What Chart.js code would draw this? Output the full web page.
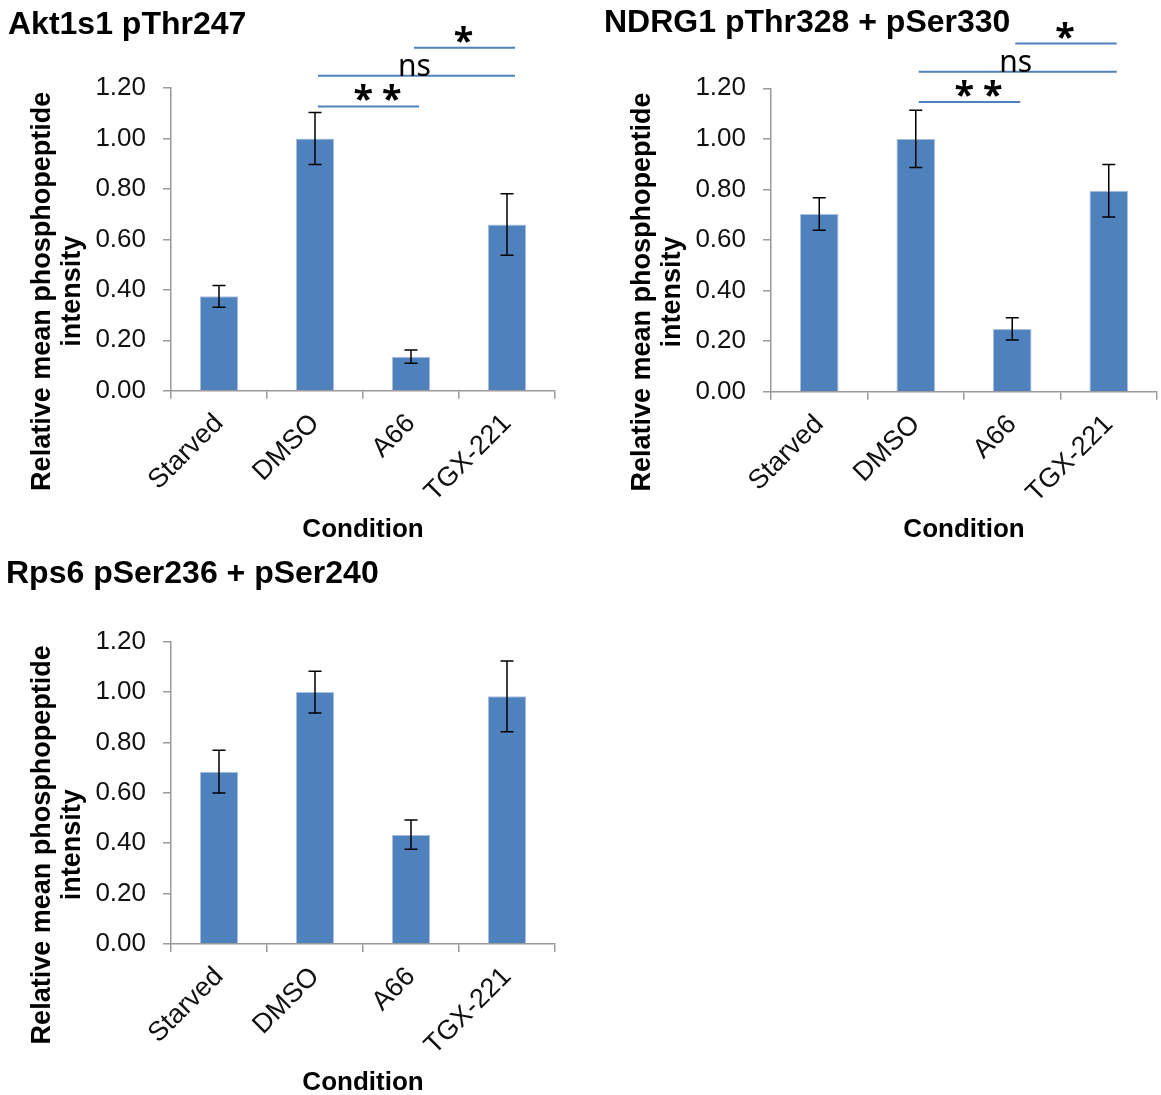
<!DOCTYPE html>
<html>
<head>
<meta charset="utf-8">
<script src="https://cdn.jsdelivr.net/npm/chart.js@4.4.1/dist/chart.umd.min.js"></script>
<style>
  html, body { margin: 0; padding: 0; background: #fff; overflow: hidden; }
  canvas { position: absolute; }
</style>
</head>
<body>
<canvas id="akt1s1" width="575" height="545" style="left:0;top:0"></canvas>
<canvas id="ndrg1" width="561" height="545" style="left:600px;top:0"></canvas>
<canvas id="rps6" width="575" height="545" style="left:0;top:553px"></canvas>
<script>
// data
var categories = ["Starved", "DMSO", "A66", "TGX-221"];
var yTickValues = [0, 0.2, 0.4, 0.6, 0.8, 1.0, 1.2];
var yTitleLines = ["Relative mean phosphopeptide", "intensity"];
var xTitle = "Condition";

var akt1s1Means = [0.374, 1.00, 0.135, 0.659];
var akt1s1Errors = [0.043, 0.103, 0.026, 0.122];

var ndrg1Means = [0.703, 1.00, 0.248, 0.795];
var ndrg1Errors = [0.064, 0.113, 0.044, 0.104];

var rps6Means = [0.684, 1.00, 0.434, 0.983];
var rps6Errors = [0.085, 0.083, 0.058, 0.140];

// significance brackets (category index from/to, level in axis units)
var akt1s1Brackets = [
  { from: 1, to: 2, level: 1.127, text: "**", dx: 9 },
  { from: 1, to: 3, level: 1.249, text: "ns", dx: -2 },
  { from: 2, to: 3, level: 1.360, text: "*", dx: -1 },
];
var ndrg1Brackets = [
  { from: 1, to: 2, level: 1.146, text: "**", dx: 9 },
  { from: 1, to: 3, level: 1.265, text: "ns", dx: -2 },
  { from: 2, to: 3, level: 1.377, text: "*", dx: -1 },
];

var FONT = "'Liberation Sans', Arial, sans-serif";
var BAR_BLUE = "#4F81BD";
var AXIS_GREY = "#9a9a9a";

var errorBarsPlugin = {
  id: "errorBars",
  afterDatasetsDraw: function (chart, args, opts) {
    var ctx = chart.ctx;
    var y = chart.scales.y;
    var meta = chart.getDatasetMeta(0);
    var values = chart.data.datasets[0].data;
    ctx.save();
    ctx.strokeStyle = "#000";
    ctx.lineWidth = 1.5;
    meta.data.forEach(function (bar, i) {
      var err = opts.errors[i];
      var top = y.getPixelForValue(values[i] + err);
      var bottom = y.getPixelForValue(values[i] - err);
      ctx.beginPath();
      ctx.moveTo(bar.x, top);
      ctx.lineTo(bar.x, bottom);
      ctx.moveTo(bar.x - 6.5, top);
      ctx.lineTo(bar.x + 6.5, top);
      ctx.moveTo(bar.x - 6.5, bottom);
      ctx.lineTo(bar.x + 6.5, bottom);
      ctx.stroke();
    });
    ctx.restore();
  },
};

var bracketsPlugin = {
  id: "brackets",
  afterDraw: function (chart, args, opts) {
    if (!opts.items) return;
    var ctx = chart.ctx;
    var x = chart.scales.x;
    var y = chart.scales.y;
    ctx.save();
    opts.items.forEach(function (b) {
      var x1 = x.getPixelForValue(b.from) + 3;
      var x2 = x.getPixelForValue(b.to) + 8;
      var ly = y.getPixelForValue(b.level);
      ctx.strokeStyle = BAR_BLUE;
      ctx.lineWidth = 2;
      ctx.beginPath();
      ctx.moveTo(x1, ly);
      ctx.lineTo(x2, ly);
      ctx.stroke();

      var mid = (x1 + x2) / 2 + b.dx;
      var stars = b.text !== "ns";
      ctx.fillStyle = "#000";
      ctx.textAlign = "left";
      ctx.textBaseline = "alphabetic";
      ctx.font = stars ? "bold 36px 'Noto Sans', sans-serif" : "30px 'Noto Sans', sans-serif";
      var spacing = b.text === "**" ? 9 : 0;
      ctx.letterSpacing = spacing + "px";
      var w = ctx.measureText(b.text).width - spacing;
      var base = stars ? ly + 5 : ly;
      ctx.fillText(b.text, mid - w / 2, base);
      ctx.letterSpacing = "0px";
    });
    ctx.restore();
  },
};

var sideTitlePlugin = {
  id: "sideTitle",
  afterDraw: function (chart, args, opts) {
    var ctx = chart.ctx;
    var area = chart.chartArea;
    var cy = (area.top + area.bottom) / 2 + 52;
    ctx.save();
    ctx.fillStyle = "#000";
    ctx.font = "bold 27px " + FONT;
    ctx.textAlign = "center";
    ctx.textBaseline = "middle";
    yTitleLines.forEach(function (line, i) {
      ctx.save();
      ctx.translate(opts.x + i * opts.gap, cy);
      ctx.rotate(-Math.PI / 2);
      ctx.fillText(line, 0, 0);
      ctx.restore();
    });
    ctx.restore();
  },
};

function renderPanel(id, title, means, errors, brackets, layout) {
  var canvas = document.getElementById(id);
  new Chart(canvas, {
    type: "bar",
    data: {
      labels: categories,
      datasets: [
        {
          data: means,
          backgroundColor: BAR_BLUE,
          borderColor: "#A9C1E0",
          borderWidth: 1,
          barPercentage: 0.4,
          categoryPercentage: 1,
        },
      ],
    },
    plugins: [errorBarsPlugin, bracketsPlugin, sideTitlePlugin],
    options: {
      responsive: false,
      animation: false,
      devicePixelRatio: 1,
      layout: { padding: { left: layout.padLeft, right: layout.padRight, top: 0, bottom: 0 } },
      plugins: {
        legend: { display: false },
        tooltip: { enabled: false },
        title: {
          display: true,
          text: title,
          align: "start",
          color: "#000",
          font: { family: FONT, size: 32, weight: "bold" },
          padding: { top: layout.titleTop, bottom: layout.titleBottom },
        },
        errorBars: { errors: errors },
        brackets: { items: brackets },
        sideTitle: { x: 43, gap: 30 },
      },
      scales: {
        x: {
          grid: { drawOnChartArea: false, color: AXIS_GREY, tickLength: 8, lineWidth: 1.5 },
          border: { color: AXIS_GREY, width: 1.5 },
          ticks: {
            autoSkip: false,
            minRotation: 45,
            maxRotation: 45,
            padding: 9,
            color: "#111",
            font: { family: FONT, size: 27 },
          },
          title: {
            display: true,
            text: xTitle,
            color: "#000",
            font: { family: FONT, size: 26, weight: "bold" },
            padding: { top: 0, bottom: 0 },
          },
          afterFit: function (scale) { scale.height = layout.xHeight; },
        },
        y: {
          min: 0,
          max: 1.2,
          grid: { drawOnChartArea: false, color: AXIS_GREY, tickLength: 8, lineWidth: 1.5 },
          border: { color: AXIS_GREY, width: 1.5 },
          ticks: {
            padding: 17,
            color: "#111",
            font: { family: FONT, size: 26 },
            callback: function (v) { return Number(v).toFixed(2); },
          },
          afterBuildTicks: function (scale) {
            scale.ticks = yTickValues.map(function (v) { return { value: v }; });
          },
          afterFit: function (scale) { scale.width = 171 - layout.padLeft; },
        },
      },
    },
  });
}

document.addEventListener("DOMContentLoaded", function () {
  renderPanel("akt1s1", "Akt1s1 pThr247", akt1s1Means, akt1s1Errors, akt1s1Brackets,
    { padLeft: 8, padRight: 20, titleTop: 5.5, titleBottom: 44.1, xHeight: 154.3 });
  renderPanel("ndrg1", "NDRG1 pThr328 + pSer330", ndrg1Means, ndrg1Errors, ndrg1Brackets,
    { padLeft: 4, padRight: 4, titleTop: 3.8, titleBottom: 46.1, xHeight: 153.3 });
  renderPanel("rps6", "Rps6 pSer236 + pSer240", rps6Means, rps6Errors, [],
    { padLeft: 6, padRight: 20, titleTop: 1.8, titleBottom: 48.5, xHeight: 154 });
});
</script>
</body>
</html>
